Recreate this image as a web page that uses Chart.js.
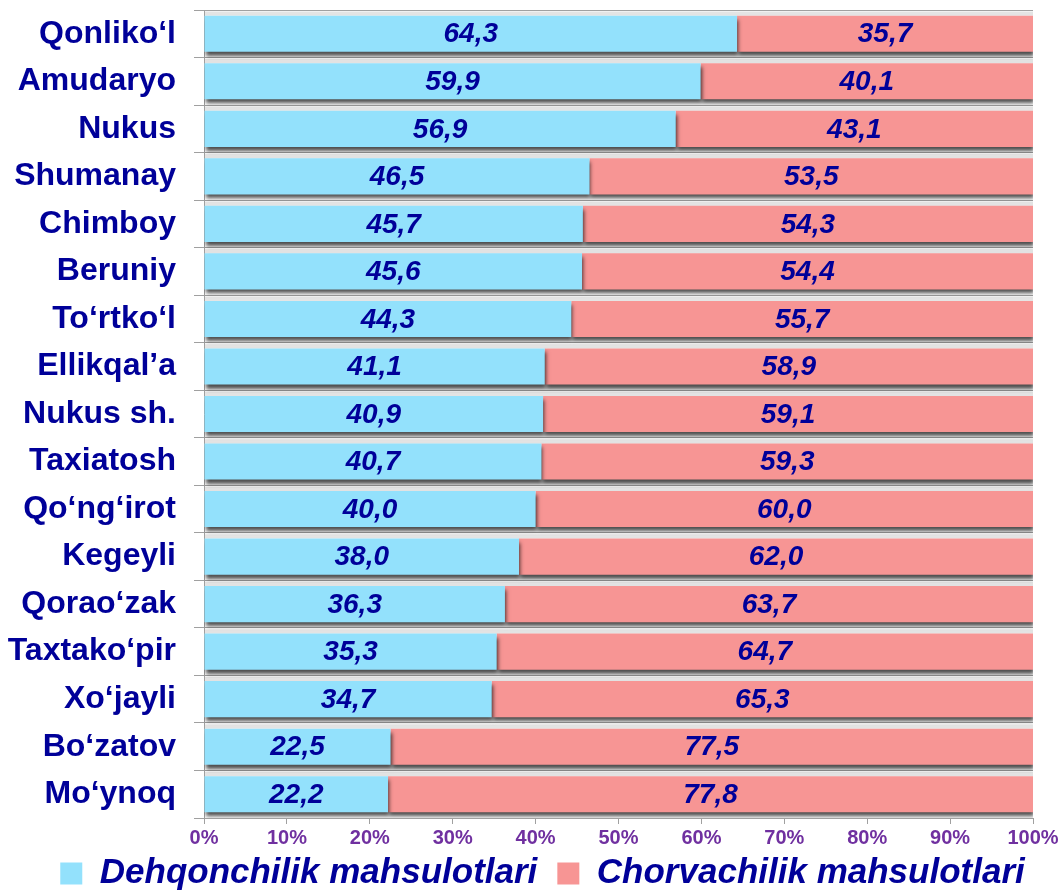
<!DOCTYPE html>
<html>
<head>
<meta charset="utf-8">
<script src="https://cdn.jsdelivr.net/npm/chart.js@4.4.1/dist/chart.umd.min.js"></script>
<style>
  html, body { margin: 0; padding: 0; background: #fff; }
  #wrap { width: 1063px; height: 890px; }
</style>
</head>
<body>
<div id="wrap"><canvas id="chart" width="1063" height="890"></canvas></div>
<script>
// tumanlar
const districts = ["Qonliko‘l", "Amudaryo", "Nukus", "Shumanay", "Chimboy", "Beruniy", "To‘rtko‘l",
  "Ellikqal’a", "Nukus sh.", "Taxiatosh", "Qo‘ng‘irot", "Kegeyli", "Qorao‘zak", "Taxtako‘pir",
  "Xo‘jayli", "Bo‘zatov", "Mo‘ynoq"];
const dehqonchilik = [64.3, 59.9, 56.9, 46.5, 45.7, 45.6, 44.3, 41.1, 40.9, 40.7, 40.0, 38.0, 36.3, 35.3, 34.7, 22.5, 22.2];
const chorvachilik = [35.7, 40.1, 43.1, 53.5, 54.3, 54.4, 55.7, 58.9, 59.1, 59.3, 60.0, 62.0, 63.7, 64.7, 65.3, 77.5, 77.8];
const seriesNames = ["Dehqonchilik mahsulotlari", "Chorvachilik mahsulotlari"];
const xTicks = [0, 10, 20, 30, 40, 50, 60, 70, 80, 90, 100];

const FONT = "'Liberation Sans', Arial, sans-serif";
const NAVY = "#000099";

// kulrang yo'lak va soya
const shadowPlugin = {
  id: "shadow",
  beforeLayout(chart) {
    // legenda balandligini qisqartirish
    const lg = chart.legend;
    if (lg && !lg._patched) {
      const fit = lg.fit;
      lg.fit = function () { fit.call(this); this.height = 36; };
      lg._patched = true;
    }
  },
  afterLayout(chart) {
    const lg = chart.legend;
    lg.top -= 18; lg.bottom += 4;
    lg.left += 26; lg.right += 26;
  },
  beforeDatasetsDraw(chart) {
    const ctx = chart.ctx;
    const area = chart.chartArea;
    const meta = chart.getDatasetMeta(0);
    const yScale = chart.scales.y;
    const half = (yScale.getPixelForValue(1) - yScale.getPixelForValue(0)) / 2;
    ctx.save();
    ctx.fillStyle = "#e4e4e4";
    meta.data.forEach((bar, i) => {
      const top = yScale.getPixelForValue(i) - half;
      const barTop = bar.y - bar.height / 2;
      ctx.fillRect(area.left + 1, top + 1.5, area.right - area.left - 1, barTop - top - 1.5);
    });
    ctx.restore();
    ctx.save();
    ctx.shadowColor = "rgba(0,0,0,0.7)";
    ctx.shadowOffsetX = 1;
    ctx.shadowOffsetY = 4;
    ctx.shadowBlur = 4;
  },
  afterDatasetsDraw(chart) {
    const ctx = chart.ctx;
    ctx.restore();
    // qiymatlar
    ctx.save();
    ctx.font = "italic bold 28px " + FONT;
    ctx.fillStyle = NAVY;
    ctx.textAlign = "center";
    ctx.textBaseline = "middle";
    chart.data.datasets.forEach((ds, di) => {
      chart.getDatasetMeta(di).data.forEach((bar, i) => {
        const cx = (bar.x + bar.base) / 2;
        ctx.fillText(ds.data[i].toFixed(1).replace(".", ","), cx, bar.y + 1);
      });
    });
    ctx.restore();
  }
};

new Chart(document.getElementById("chart"), {
  type: "bar",
  data: {
    labels: districts,
    datasets: [
      { label: seriesNames[0], data: dehqonchilik, backgroundColor: "#93E1FC" },
      { label: seriesNames[1], data: chorvachilik, backgroundColor: "#F79594" }
    ]
  },
  options: {
    indexAxis: "y",
    responsive: false,
    animation: false,
    categoryPercentage: 1,
    barPercentage: 0.76,
    layout: { padding: { top: 10, right: 30, left: 0, bottom: 0 } },
    scales: {
      x: {
        stacked: true,
        min: 0,
        max: 100,
        afterBuildTicks(scale) { scale.ticks = xTicks.map(v => ({ value: v })); },
        afterFit(scale) { scale.height = 36; scale.paddingLeft = 0; scale.paddingRight = 0; },
        grid: { drawOnChartArea: false, tickLength: 6, color: "#a0a0a0" },
        border: { color: "#a0a0a0" },
        ticks: {
          color: "#7030A0",
          font: { family: FONT, size: 20, weight: "bold" },
          padding: 2,
          maxRotation: 0,
          callback: v => v + "%"
        }
      },
      y: {
        stacked: true,
        afterFit(scale) { scale.width = 204; scale.paddingTop = 0; scale.paddingBottom = 0; },
        grid: { color: "#a0a0a0", tickLength: 10, offset: true },
        border: { color: "#a0a0a0" },
        ticks: {
          color: NAVY,
          font: { family: FONT, size: 32, weight: "bold" },
          padding: 18
        }
      }
    },
    plugins: {
      legend: {
        position: "bottom",
        labels: {
          boxWidth: 22,
          boxHeight: 22,
          padding: 20,
          color: NAVY,
          font: { family: FONT, size: 35, weight: "bold", style: "italic" }
        }
      },
      tooltip: { enabled: false }
    }
  },
  plugins: [shadowPlugin]
});
</script>
</body>
</html>
